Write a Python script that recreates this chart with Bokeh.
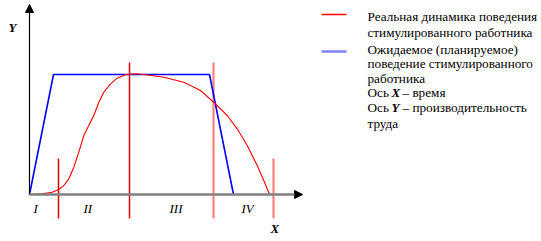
from bokeh.plotting import figure
from bokeh.models import Range1d, Arrow, NormalHead
from bokeh.core.properties import value
from bokeh.embed import file_html
from bokeh.resources import INLINE

# Chart units: x = time, y = productivity (origin at axis intersection)
plan_x = [0, 24, 180, 204]
plan_y = [0, 120, 120, 0]

real_x = [0, 12.7, 22.7, 29.3, 34.3, 39.3, 44.3, 49.3, 54.3, 59.3, 64.3, 69.3, 74.3, 81,
          87.7, 96, 106, 114.3, 134.3, 154.3, 171, 186, 197.7, 207.7, 217.7, 227.7, 234.3, 240]
real_y = [0, 0.7, 2.3, 5, 9, 15.7, 27.3, 42.3, 59, 69, 79, 92.3, 102.3, 110.7,
          116.3, 119.7, 120.7, 120, 117.3, 112.3, 104, 90.7, 79, 65.7, 49, 29, 14, 0]

stage_x = [29, 100, 184, 244]
stage_top = [36, 132, 132, 36]
stage_colors = ["#E00000", "#E00000", "#FF8080", "#FF8080"]
stage_widths = [1.5, 1.5, 2.2, 2.2]

stage_labels = ["I", "II", "III", "IV"]
stage_label_x = [4, 54, 140, 212]

legend_lines = [
    "Реальная динамика поведения",
    "стимулированного работника",
    "Ожидаемое (планируемое)",
    "поведение стимулированного",
    "работника",
]

FONT = value("Liberation Serif")
CS = "13.2px"

p = figure(width=541, height=241, output_backend="svg", toolbar_location=None,
           x_range=Range1d(-29, 512), y_range=Range1d(-47, 194),
           min_border=0, min_border_left=0, min_border_right=0,
           min_border_top=0, min_border_bottom=0)
p.axis.visible = False
p.grid.visible = False
p.outline_line_color = None
p.background_fill_color = "white"

# axes
p.add_layout(Arrow(end=NormalHead(size=8, fill_color="black", line_color="black"),
                   x_start=0, y_start=0, x_end=0, y_end=190,
                   line_color="black", line_width=1.2))
p.add_layout(Arrow(end=NormalHead(size=8, fill_color="black", line_color="black"),
                   x_start=0, y_start=0, x_end=273, y_end=0,
                   line_color="#808080", line_width=2.5))

# stage dividers
for sx, st, c, w in zip(stage_x, stage_top, stage_colors, stage_widths):
    p.segment(x0=[sx], y0=[-24], x1=[sx], y1=[st], line_color=c, line_width=w)

p.line(plan_x, plan_y, line_color="#0000FF", line_width=1.6)
p.line(real_x, real_y, line_color="#FF0000", line_width=1.1)

p.text(x=stage_label_x, y=[-14] * 4, text=stage_labels, text_font=FONT,
       text_font_style="italic", text_font_size="13px", text_baseline="middle")
p.text(x=[-21], y=[167], text=["Y"], text_font=FONT, text_font_style="bold italic",
       text_font_size="13px", text_baseline="middle")
p.text(x=[241], y=[-34], text=["X"], text_font=FONT, text_font_style="bold italic",
       text_font_size="13px", text_baseline="middle")

# legend
p.segment(x0=[292], y0=[180], x1=[317], y1=[180], line_color="#FF0000", line_width=1.5)
p.segment(x0=[292], y0=[143], x1=[317], y1=[143], line_color="#8080FF", line_width=2.5)

ly = [178, 162, 145, 131, 116]
p.text(x=[338] * 5, y=ly, text=legend_lines, text_font=FONT, text_font_size=CS,
       text_baseline="middle")
p.text(x=[338], y=[102], text=["Ось"], text_font=FONT, text_font_size=CS, text_baseline="middle")
p.text(x=[362], y=[102], text=["X"], text_font=FONT, text_font_style="bold italic",
       text_font_size="13px", text_baseline="middle")
p.text(x=[373], y=[102], text=["– время"], text_font=FONT, text_font_size=CS, text_baseline="middle")
p.text(x=[338], y=[87], text=["Ось"], text_font=FONT, text_font_size=CS, text_baseline="middle")
p.text(x=[362], y=[87], text=["Y"], text_font=FONT, text_font_style="bold italic",
       text_font_size="13px", text_baseline="middle")
p.text(x=[373], y=[87], text=["– производительность"], text_font=FONT, text_font_size=CS,
       text_baseline="middle")
p.text(x=[338], y=[71], text=["труда"], text_font=FONT, text_font_size=CS, text_baseline="middle")

open("out.html", "w").write(file_html(p, INLINE))
